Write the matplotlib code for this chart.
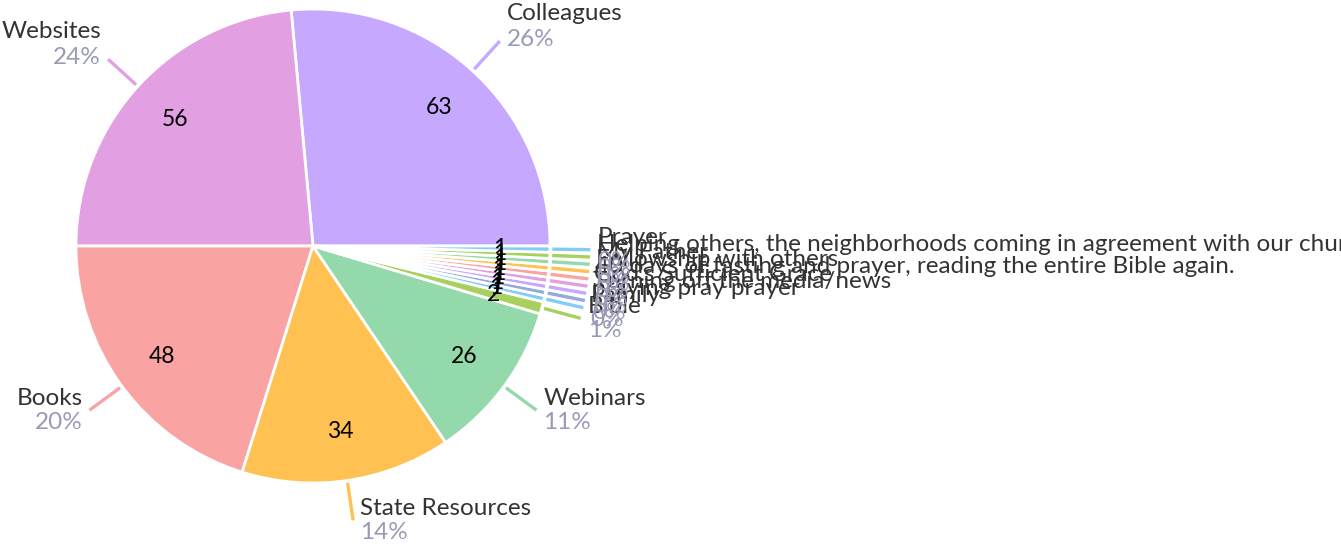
import matplotlib
matplotlib.use("Agg")
import matplotlib.pyplot as plt
import numpy as np

plt.rcParams["font.family"] = ["Lato", "DejaVu Sans"]

# ---------------------------------------------------------------------------
# Data
# ---------------------------------------------------------------------------
categories = [
    "Colleagues", "Websites", "Books", "State Resources", "Webinars",
    "Bible", "Family", "praying pray prayer", "Turning off the media/news",
    "God's Sufficient Grace",
    "40 days of fasting and prayer, reading the entire Bible again.",
    "Fellowship with others", "My Father",
    "Helping others, the neighborhoods coming in agreement with our church.",
    "Prayer",
]
values = [63, 56, 48, 34, 26, 2, 1, 1, 1, 1, 1, 1, 1, 1, 1]
palette = ["#C6A8FF", "#E2A0E2", "#F9A3A3", "#FFC252",
           "#93D9AB", "#A8D05E", "#82CCF7", "#94AADB"]

# ---------------------------------------------------------------------------
# Figure in pixel coordinates
# ---------------------------------------------------------------------------
W, H = 1341, 548
fig = plt.figure(figsize=(W / 100, H / 100), dpi=100)
ax = fig.add_axes([0, 0, 1, 1])

cx, cy, r = 313, H - 246, 237
colors = [palette[i % len(palette)] for i in range(len(values))]

wedges, _ = ax.pie(
    values, colors=colors, startangle=0, counterclock=True,
    center=(cx, cy), radius=r, frame=True,
    wedgeprops=dict(edgecolor="white", linewidth=2.0),
)
ax.set_xlim(0, W)
ax.set_ylim(0, H)
ax.set_aspect("equal")
ax.axis("off")

total = sum(values)
for w, name, val, col in zip(wedges, categories, values, colors):
    theta = np.deg2rad((w.theta1 + w.theta2) / 2)
    c, s = np.cos(theta), np.sin(theta)

    # value inside the slice
    ax.text(cx + 0.79 * r * c, cy + 0.79 * r * s, str(val),
            ha="center", va="center", fontsize=16.5, color="black")

    # leader line
    x0, y0 = cx + 1.01 * r * c, cy + 1.01 * r * s
    x1, y1 = cx + 1.17 * r * c, cy + 1.17 * r * s
    ax.plot([x0, x1], [y0, y1], color=col, linewidth=2.4,
            solid_capstyle="butt")

    # name + percent
    pct = f"{round(val / total * 100)}%"
    ha = "left" if c >= 0 else "right"
    tx = x1 + (7 if c >= 0 else -7)
    if s > 0.05:
        name_y, pct_y = y1 + 28, y1 + 2
    else:
        name_y, pct_y = y1 + 12, y1 - 12
    ax.text(tx, name_y, name, ha=ha, va="center", fontsize=17.5, color="#333333")
    ax.text(tx, pct_y, pct, ha=ha, va="center", fontsize=17.5, color="#9A9AB8")

fig.savefig("out.png", dpi=100)
